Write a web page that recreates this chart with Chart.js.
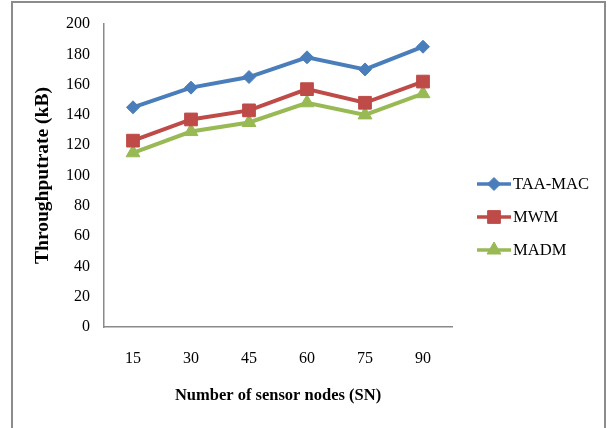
<!DOCTYPE html>
<html>
<head>
<meta charset="utf-8">
<script src="https://cdn.jsdelivr.net/npm/chart.js@4.4.1/dist/chart.umd.min.js"></script>
<style>
  html, body { margin: 0; padding: 0; background: #fff; overflow: hidden; }
  #wrap { position: relative; width: 608px; height: 428px; }
  #frame { position: absolute; left: 11px; top: 1px; width: 595px; height: 440px;
           border: 2px solid #8c8c8c; box-sizing: border-box; pointer-events: none; }
  canvas { position: absolute; left: 0; top: 0; }
</style>
</head>
<body>
<div id="wrap">
  <canvas id="c" width="608" height="428"></canvas>
  <div id="frame"></div>
</div>
<script>
// Sensor node counts on the x axis
const nodes = ['15', '30', '45', '60', '75', '90'];
// Throughput rate (kB) per protocol
const taaMac = [145, 158, 165, 178, 170, 185];
const mwm    = [123, 137, 143, 157, 148, 162];
const madm   = [115, 129, 135, 148, 140, 154];
// Y axis ticks
const yTicks = [0, 20, 40, 60, 80, 100, 120, 140, 160, 180, 200];

const serif = "'Liberation Serif', 'Times New Roman', serif";

function series(label, data, color, style, radius) {
  return {
    label, data,
    borderColor: color, backgroundColor: color,
    borderWidth: 4,
    pointStyle: style, pointRadius: radius, pointHoverRadius: radius,
    pointBackgroundColor: color, pointBorderColor: color, pointBorderWidth: 1,
    tension: 0, fill: false
  };
}

// Legend on the right: a short line with the series marker, then the name
const sideLegend = {
  id: 'sideLegend',
  afterDraw(chart) {
    const ctx = chart.ctx;
    const x0 = 477, x1 = 511, rows = [184, 217, 250];
    chart.data.datasets.forEach((ds, i) => {
      const y = rows[i];
      ctx.save();
      ctx.strokeStyle = ds.borderColor;
      ctx.lineWidth = 3.5;
      ctx.beginPath();
      ctx.moveTo(x0, y); ctx.lineTo(x1, y);
      ctx.stroke();
      ctx.fillStyle = ds.borderColor;
      ctx.strokeStyle = ds.borderColor;
      ctx.lineWidth = 1;
      Chart.helpers.drawPoint(ctx, { pointStyle: ds.pointStyle, radius: ds.pointRadius, rotation: 0, borderWidth: 1 }, (x0 + x1) / 2, y);
      ctx.fillStyle = '#000';
      ctx.font = '16.6px ' + serif;
      ctx.textBaseline = 'middle';
      ctx.textAlign = 'left';
      ctx.fillText(ds.label, 513, y + 1);
      ctx.restore();
    });
  }
};

new Chart(document.getElementById('c'), {
  type: 'line',
  data: {
    labels: nodes,
    datasets: [
      series('TAA-MAC', taaMac, '#4a7ebb', 'rectRot', 6.5),
      series('MWM', mwm, '#be4b48', 'rect', 9),
      series('MADM', madm, '#98b954', 'triangle', 8)
    ]
  },
  options: {
    responsive: false,
    animation: false,
    layout: { padding: { left: 0, right: 156, top: 24, bottom: 1 } },
    plugins: { legend: { display: false }, tooltip: { enabled: false } },
    scales: {
      x: {
        offset: true,
        grid: { display: false, drawTicks: false },
        border: { display: true, color: '#8a8a8a', width: 1.5 },
        ticks: { color: '#000', font: { family: serif, size: 16 }, padding: 22 },
        title: { display: true, text: 'Number of sensor nodes (SN)', color: '#000',
                 font: { family: serif, size: 16.5, weight: 'bold' }, padding: { top: 0, bottom: 21 } },
        afterFit(s) { s.height = 100; }
      },
      y: {
        min: 0, max: 200,
        afterBuildTicks(s) { s.ticks = yTicks.map(v => ({ value: v })); },
        grid: { display: false, drawTicks: false },
        border: { display: true, color: '#8a8a8a', width: 1.5 },
        ticks: { color: '#000', font: { family: serif, size: 16 }, padding: 14 },
        title: { display: true, text: 'Throughputrate (kB)', color: '#000',
                 font: { family: serif, size: 19.5, weight: 'bold' }, padding: { top: 31, bottom: 0 } },
        afterFit(s) { s.width = 104; }
      }
    }
  },
  plugins: [sideLegend]
});
</script>
</body>
</html>
